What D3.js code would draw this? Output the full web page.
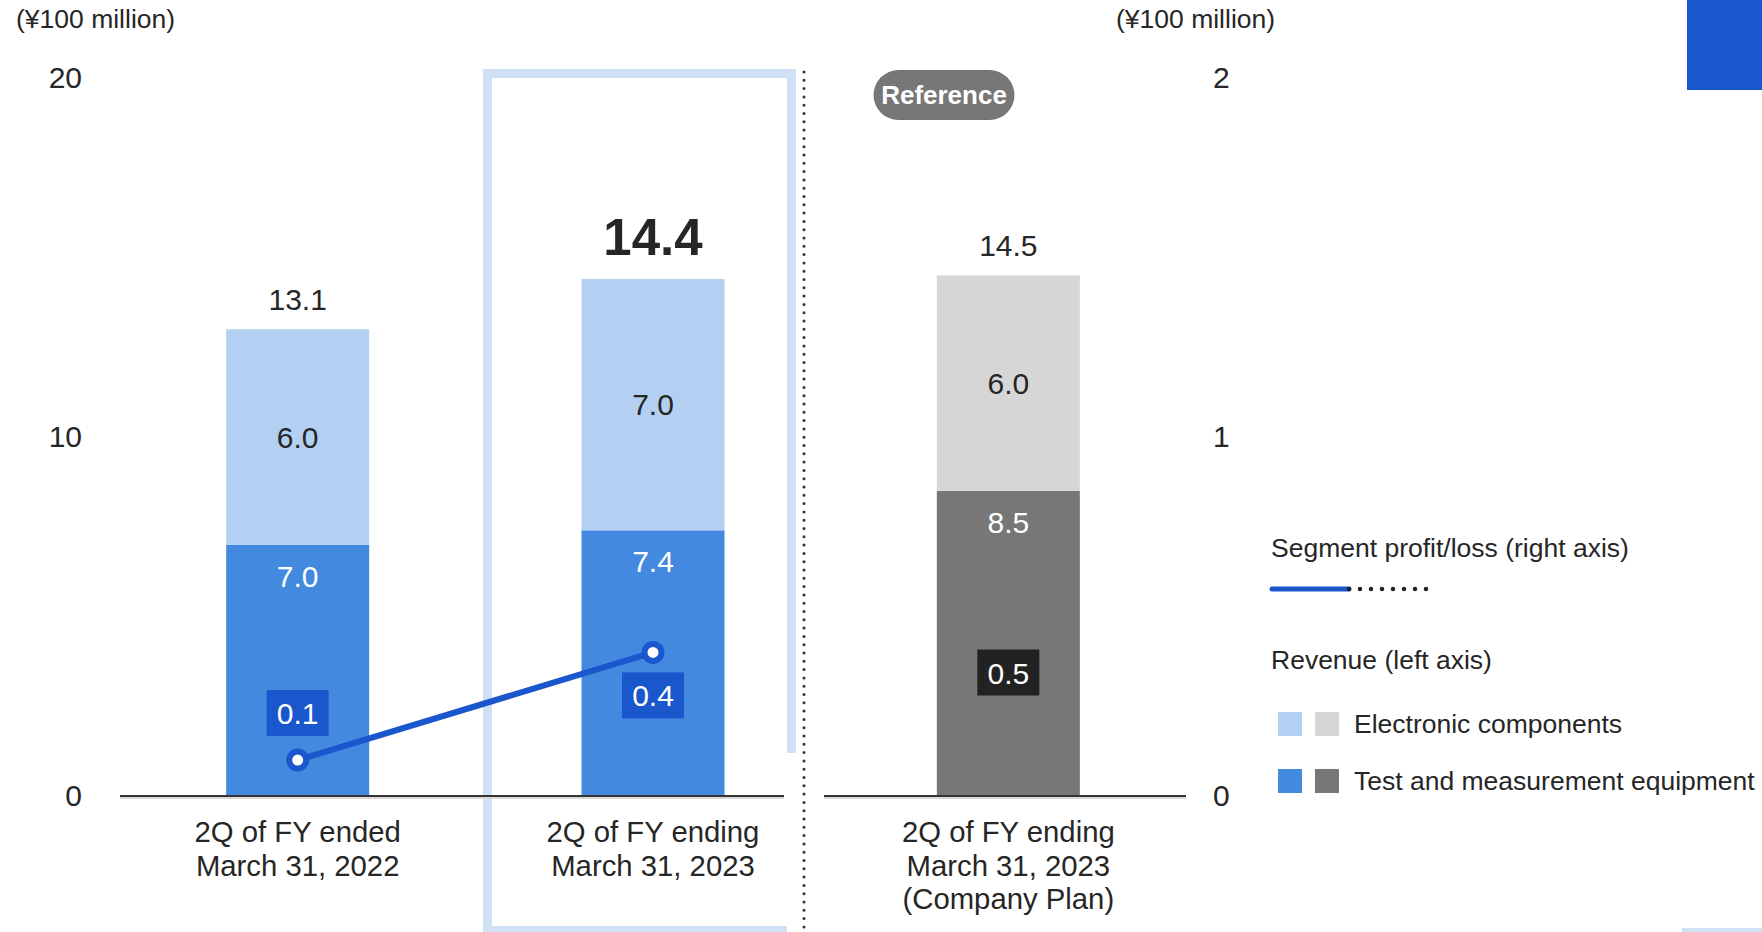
<!DOCTYPE html>
<html>
<head>
<meta charset="utf-8">
<script src="https://cdn.jsdelivr.net/npm/d3@7"></script>
<style>
  html, body { margin: 0; padding: 0; background: #fff; }
  svg { display: block; font-family: "Liberation Sans", Arial, sans-serif; }
</style>
</head>
<body>
<svg id="chart" width="1762" height="932"></svg>
<script>
// Revenue by segment (¥100 million) and segment profit/loss
const categories = [
  ["2Q of FY ended", "March 31, 2022"],
  ["2Q of FY ending", "March 31, 2023"],
  ["2Q of FY ending", "March 31, 2023", "(Company Plan)"]
];
const testMeasurement = [7.0, 7.4, 8.5];
const electronicComponents = [6.0, 7.0, 6.0];
const revenueTotals = [13.1, 14.4, 14.5];
const segmentProfit = [0.1, 0.4, 0.5];
const leftTicks = [0, 10, 20];
const rightTicks = [0, 1, 2];

const svg = d3.select("#chart");
const W = 1762, H = 932;
const textColor = "#262626";
const blue = "#4389e0", lightBlue = "#b3cff2";
const gray = "#777777", lightGray = "#d6d6d6";
const lineBlue = "#1a56cc", frameBlue = "#d0e0f5";

const baseY = 796, topY = 78;
const yL = d3.scaleLinear().domain([0, 20]).range([baseY, topY]);
const yR = d3.scaleLinear().domain([0, 2]).range([baseY, topY]);
const x = d3.scalePoint().domain(d3.range(categories.length)).range([120, 1186]).padding(0.5);
const barW = 143;

// highlight frame around the current period
const fx0 = 483, fx1 = 796, fy0 = 69, fT = 9;
const frame = svg.append("g").attr("fill", frameBlue);
frame.append("rect").attr("x", fx0).attr("y", fy0).attr("width", fT).attr("height", H - fy0);
frame.append("rect").attr("x", fx0).attr("y", fy0).attr("width", fx1 - fx0).attr("height", fT);
frame.append("rect").attr("x", fx1 - fT).attr("y", fy0).attr("width", fT).attr("height", 753 - fy0);
frame.append("rect").attr("x", fx0).attr("y", H - 6).attr("width", 787 - fx0).attr("height", 6);

// corner decorations
svg.append("rect").attr("x", 1687).attr("y", 0).attr("width", W - 1687).attr("height", 90).attr("fill", lineBlue);
svg.append("rect").attr("x", 1682).attr("y", H - 4).attr("width", W - 1682).attr("height", 4).attr("fill", frameBlue);

// dotted separator between actuals and plan
svg.append("line")
  .attr("x1", 804).attr("x2", 804).attr("y1", 72).attr("y2", H)
  .attr("stroke", "#333").attr("stroke-width", 3)
  .attr("stroke-linecap", "round").attr("stroke-dasharray", "0 8.3");

// stacked bars
const lowerColor = (i) => i === 2 ? gray : blue;
const upperColor = (i) => i === 2 ? lightGray : lightBlue;
const bars = svg.append("g");
categories.forEach((c, i) => {
  const cx = x(i);
  const lower = testMeasurement[i], upper = electronicComponents[i];
  bars.append("rect")
    .attr("x", cx - barW / 2).attr("width", barW)
    .attr("y", yL(lower)).attr("height", yL(0) - yL(lower))
    .attr("fill", lowerColor(i));
  bars.append("rect")
    .attr("x", cx - barW / 2).attr("width", barW)
    .attr("y", yL(lower + upper)).attr("height", yL(lower) - yL(lower + upper))
    .attr("fill", upperColor(i));
  // segment labels
  bars.append("text")
    .attr("x", cx).attr("y", yL(lower) + 42)
    .attr("text-anchor", "middle").attr("font-size", 30).attr("fill", "#fff")
    .text(lower.toFixed(1));
  bars.append("text")
    .attr("x", cx).attr("y", (yL(lower) + yL(lower + upper)) / 2 + 10.5)
    .attr("text-anchor", "middle").attr("font-size", 30).attr("fill", textColor)
    .text(upper.toFixed(1));
  // totals
  const emphasis = i === 1;
  bars.append("text")
    .attr("x", cx).attr("y", yL(lower + upper) - (emphasis ? 24 : 19))
    .attr("text-anchor", "middle")
    .attr("font-size", emphasis ? 51 : 30)
    .attr("font-weight", emphasis ? "bold" : "normal")
    .attr("fill", textColor)
    .text(revenueTotals[i].toFixed(1));
});

// baselines
const baselines = [[120, 784], [824, 1186]];
baselines.forEach(([a, b]) => {
  svg.append("line").attr("x1", a).attr("x2", b).attr("y1", baseY + 2).attr("y2", baseY + 2)
    .attr("stroke", "#d9d9d9").attr("stroke-width", 2);
  svg.append("line").attr("x1", a).attr("x2", b).attr("y1", baseY).attr("y2", baseY)
    .attr("stroke", "#333").attr("stroke-width", 2);
});

// axes
const leftAxis = d3.axisLeft(yL).tickValues(leftTicks).tickFormat(d3.format("d")).tickSize(0).tickPadding(0);
svg.append("g").attr("transform", "translate(82,0)").call(leftAxis)
  .call(g => g.select(".domain").remove())
  .selectAll("text").attr("font-size", 30).attr("fill", textColor)
  .attr("font-family", "Liberation Sans, Arial, sans-serif");
const rightAxis = d3.axisRight(yR).tickValues(rightTicks).tickFormat(d3.format("d")).tickSize(0).tickPadding(0);
svg.append("g").attr("transform", "translate(1213,0)").call(rightAxis)
  .call(g => g.select(".domain").remove())
  .selectAll("text").attr("font-size", 30).attr("fill", textColor)
  .attr("font-family", "Liberation Sans, Arial, sans-serif");

svg.append("text").attr("x", 16).attr("y", 28).attr("font-size", 26.5).attr("fill", textColor).text("(¥100 million)");
svg.append("text").attr("x", 1116).attr("y", 28).attr("font-size", 26.5).attr("fill", textColor).text("(¥100 million)");

// category labels
categories.forEach((lines, i) => {
  const t = svg.append("text").attr("text-anchor", "middle").attr("font-size", 29.3).attr("fill", textColor);
  lines.forEach((ln, k) => {
    t.append("tspan").attr("x", x(i)).attr("y", 842 + k * 33.7).text(ln);
  });
});

// "Reference" pill
const pill = svg.append("g").attr("transform", "translate(944,95)");
pill.append("rect").attr("x", -70.5).attr("y", -25).attr("width", 141).attr("height", 50).attr("rx", 25)
  .attr("fill", "#777");
pill.append("text").attr("text-anchor", "middle").attr("y", 9).attr("font-size", 26)
  .attr("font-weight", "bold").attr("fill", "#fff").text("Reference");

// segment profit/loss line (actuals only)
const actual = segmentProfit.slice(0, 2).map((v, i) => [x(i), yR(v)]);
svg.append("path")
  .attr("d", d3.line()(actual))
  .attr("fill", "none").attr("stroke", lineBlue).attr("stroke-width", 6);
svg.selectAll("circle.pt").data(actual).join("circle")
  .attr("class", "pt")
  .attr("cx", d => d[0]).attr("cy", d => d[1]).attr("r", 8.5)
  .attr("fill", "#fff").attr("stroke", lineBlue).attr("stroke-width", 6);

// profit labels
const labelOffset = [-47, 43, 56];
const labelFill = [lineBlue, lineBlue, "#222"];
segmentProfit.forEach((v, i) => {
  const cy = yR(v) + labelOffset[i];
  const g = svg.append("g").attr("transform", `translate(${x(i)},${cy})`);
  g.append("rect").attr("x", -31).attr("y", -23).attr("width", 62).attr("height", 46).attr("fill", labelFill[i]);
  g.append("text").attr("text-anchor", "middle").attr("y", 11).attr("font-size", 30)
    .attr("fill", "#fff").text(v.toFixed(1));
});

// legend
const lg = svg.append("g").attr("fill", textColor).attr("font-size", 26.5);
lg.append("text").attr("x", 1271).attr("y", 557).text("Segment profit/loss (right axis)");
lg.append("line").attr("x1", 1272).attr("x2", 1349).attr("y1", 589).attr("y2", 589)
  .attr("stroke", lineBlue).attr("stroke-width", 5).attr("stroke-linecap", "round");
lg.append("line").attr("x1", 1349).attr("x2", 1430).attr("y1", 589).attr("y2", 589)
  .attr("stroke", "#222").attr("stroke-width", 4.5).attr("stroke-linecap", "round")
  .attr("stroke-dasharray", "0 11");
lg.append("text").attr("x", 1271).attr("y", 669).text("Revenue (left axis)");
const legendRows = [
  { label: "Electronic components", colors: [lightBlue, lightGray], y: 712 },
  { label: "Test and measurement equipment", colors: [blue, gray], y: 769 }
];
legendRows.forEach(r => {
  r.colors.forEach((c, k) => {
    lg.append("rect").attr("x", 1278 + k * 37).attr("y", r.y).attr("width", 24).attr("height", 24).attr("fill", c);
  });
  lg.append("text").attr("x", 1354).attr("y", r.y + 21).text(r.label);
});
</script>
</body>
</html>
